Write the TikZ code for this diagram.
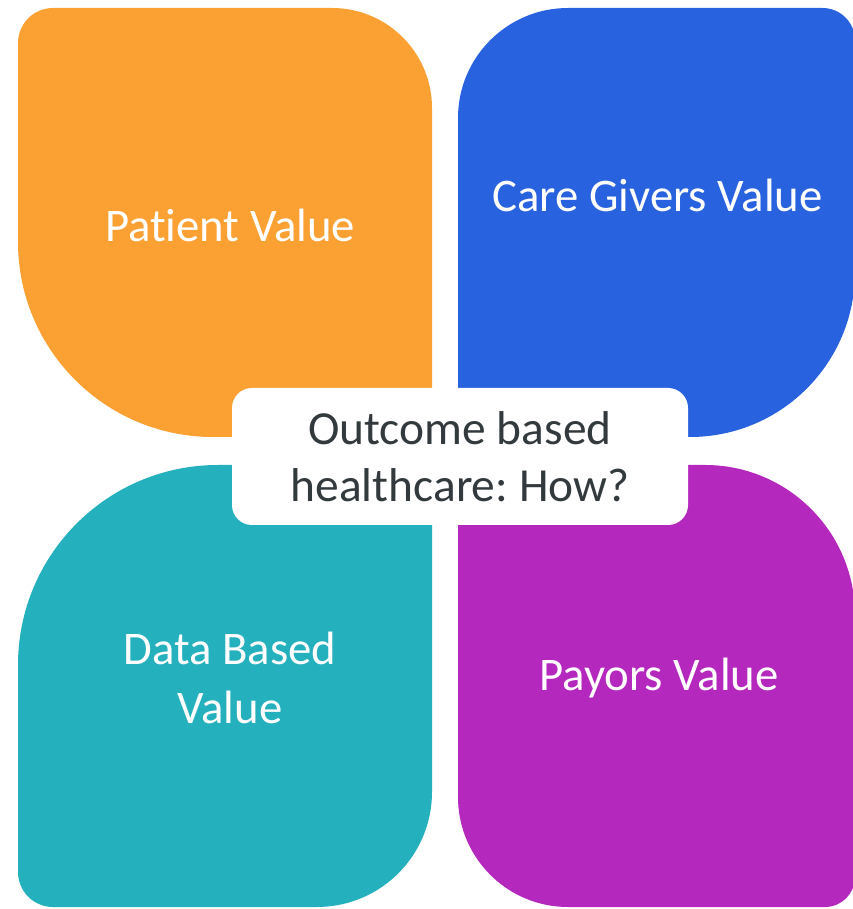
\documentclass[tikz,border=0pt]{standalone}
\usepackage{fontspec}
\setmainfont{Carlito}[Ligatures=NoCommon]
\frenchspacing

\definecolor{petalorange}{RGB}{251,161,52}
\definecolor{petalblue}{RGB}{41,98,222}
\definecolor{petalteal}{RGB}{36,176,188}
\definecolor{petalpurple}{RGB}{180,40,190}
\definecolor{hubtext}{RGB}{51,58,62}

\begin{document}
\begin{tikzpicture}[
    label/.style = {text = white, align = center, font = \fontsize{26.6}{33.6}\selectfont},
    hub/.style = {fill = white, rounded corners = 0.4cm, minimum width = 9.12cm, minimum height = 2.74cm,
                  align = center, text = hubtext, font = \fontsize{27}{32.4}\selectfont}]
                        \clip (0, 0) rectangle (17.06, 18.18);
                        % four petals, each with two wide corners and two tight ones
                        \fill[petalorange] (0.36, 17.32) arc[start angle = 180, end angle = 90, radius = 0.7]
                              -- (6.64, 18.02) arc[start angle = 90, end angle = 0, radius = 2.0]
                              -- (8.64, 9.94) arc[start angle = 0, end angle = -90, radius = 0.5]
                              -- (4.26, 9.44) arc[start angle = 270, end angle = 180, radius = 3.9] -- cycle;
                        \fill[petalblue] (9.16, 15.82) arc[start angle = 180, end angle = 90, radius = 2.2]
                              -- (16.45, 18.02) arc[start angle = 90, end angle = 0, radius = 0.65]
                              -- (17.1, 12.74) arc[start angle = 0, end angle = -90, radius = 3.3]
                              -- (9.66, 9.44) arc[start angle = 270, end angle = 180, radius = 0.5] -- cycle;
                        \fill[petalteal] (0.36, 4.88) arc[start angle = 180, end angle = 90, radius = 4.0]
                              -- (8.14, 8.88) arc[start angle = 90, end angle = 0, radius = 0.5]
                              -- (8.64, 2.34) arc[start angle = 0, end angle = -90, radius = 2.3]
                              -- (1.06, 0.04) arc[start angle = 270, end angle = 180, radius = 0.7] -- cycle;
                        \fill[petalpurple] (9.16, 8.38) arc[start angle = 180, end angle = 90, radius = 0.5]
                              -- (14.1, 8.88) arc[start angle = 90, end angle = 0, radius = 3.0]
                              -- (17.1, 0.64) arc[start angle = 0, end angle = -90, radius = 0.6]
                              -- (11.36, 0.04) arc[start angle = 270, end angle = 180, radius = 2.2] -- cycle;
                        % petal labels
                        \node[label] (patient) at (4.6, 13.68) {Patient Value};
                        \node[label] (givers) at (13.15, 14.28) {Care Givers Value};
                        \node[label] (data) at (4.6, 4.62) {Data Based\\Value};
                        \node[label] (payors) at (13.18, 4.62) {Payors Value};
                        % centre box
                        \node[hub] (hub) at (9.2, 9.05) {Outcome based\\healthcare: How?};
                  \end{tikzpicture}
\end{document}
